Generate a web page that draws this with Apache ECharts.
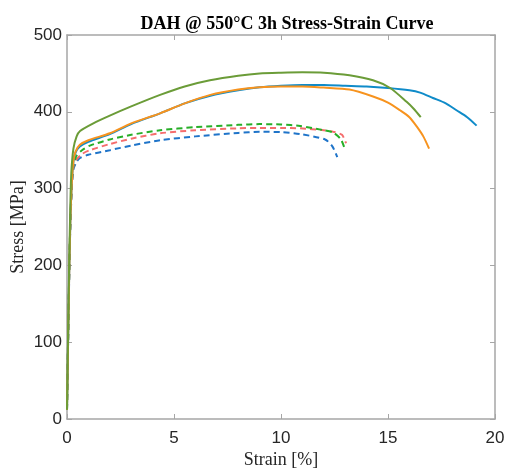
<!DOCTYPE html>
<html>
<head>
<meta charset="utf-8">
<script src="https://cdn.jsdelivr.net/npm/echarts@6/dist/echarts.min.js"></script>
<style>
    html, body { margin: 0; padding: 0; background: #fff; }
    #chart { width: 506px; height: 470px; }
</style>
</head>
<body>
<div id="chart"></div>
<script>
// strain [%], stress [MPa]
var blueSolid = [[0, 12], [0.05, 100], [0.1, 185], [0.15, 250], [0.22, 305], [0.3, 335], [0.4, 347], [0.6, 355], [1, 361], [2, 371], [3, 384], [4.35, 398], [5.5, 411], [6.7, 421], [8, 428], [9, 432], [10, 434], [11, 435], [12, 435], [13, 434], [14, 433], [15, 431], [16, 428], [16.5, 425], [17.1, 418], [17.7, 411], [18.2, 402], [18.7, 393], [19.14, 382]];
var orangeSolid = [[0, 12], [0.05, 100], [0.1, 185], [0.15, 250], [0.22, 305], [0.3, 336], [0.4, 348], [0.6, 357], [1, 363], [2, 372], [3, 385], [4.35, 398], [5.5, 411], [6.7, 422], [8, 429], [9, 432], [10, 433], [11, 433], [12, 431.5], [13.2, 429], [14.3, 420], [15, 412], [15.56, 402], [16, 393], [16.34, 381], [16.65, 368], [16.92, 352]];
var greenSolid = [[0, 12], [0.05, 110], [0.1, 200], [0.15, 270], [0.2, 320], [0.3, 352], [0.45, 368], [0.61, 375], [1.23, 385], [2, 395], [3, 407], [4.35, 422], [5.5, 433], [6.68, 441], [8, 447], [9, 450], [10, 451], [11, 451.5], [12, 451], [13.2, 447.5], [14.3, 441], [15.1, 431], [15.87, 413], [16.2, 404], [16.53, 393]];
var blueDashed = [[0, 12], [0.05, 100], [0.1, 180], [0.15, 245], [0.22, 298], [0.3, 325], [0.45, 335], [0.61, 340], [1, 344], [2, 350], [3, 356], [4.35, 363], [6, 368], [8, 372.5], [9, 374], [10, 373.5], [10.9, 371], [12.06, 364], [12.4, 355], [12.63, 341]];
var redDashed = [[0, 12], [0.05, 100], [0.1, 182], [0.15, 247], [0.22, 300], [0.3, 328], [0.45, 338], [0.7, 345], [1.07, 350], [2, 358], [3, 365], [4.35, 372], [6, 376], [8, 378.5], [9, 379], [10, 379], [10.9, 378.5], [12, 376], [12.44, 374], [12.85, 370], [13.04, 359]];
var greenDashed = [[0, 12], [0.05, 100], [0.1, 185], [0.15, 250], [0.22, 305], [0.3, 330], [0.45, 343], [0.7, 350], [1.07, 356], [2, 364], [3, 370], [4.35, 376], [6, 380], [8, 383], [9, 384], [10, 383.5], [10.9, 381.5], [12, 376], [12.44, 373], [12.8, 364], [12.99, 351]];

var xTicks = [0, 5, 10, 15, 20];
var yTicks = [0, 100, 200, 300, 400, 500];

var chart = echarts.init(document.getElementById('chart'));
var axisGray = '#a6a6a6';
var labelColor = '#262626';

function solid(name, data, color) {
    return {
        name: name,
        type: 'line',
        data: data,
        smooth: 0.25,
        showSymbol: false,
        lineStyle: { color: color, width: 2 },
        z: 3
    };
}
function dashed(name, data, color) {
    return {
        name: name,
        type: 'line',
        data: data,
        smooth: 0.25,
        showSymbol: false,
        lineStyle: { color: color, width: 2, type: [6, 4] },
        z: 2
    };
}

var option = {
    animation: false,
    title: {
        text: 'DAH @ 550°C 3h Stress-Strain Curve',
        left: 282,
        textAlign: 'center',
        top: 10,
        textStyle: {
            fontFamily: 'Liberation Serif',
            fontSize: 18,
            fontWeight: 'bold',
            color: '#000'
        }
    },
    grid: {
        left: 67,
        right: 11,
        top: 35,
        bottom: 51,
        outerBoundsMode: 'none',
        containLabel: false
    },
    xAxis: [{
        type: 'value',
        min: xTicks[0],
        max: xTicks[xTicks.length - 1],
        interval: 5,
        name: 'Strain [%]',
        nameLocation: 'middle',
        nameGap: 32,
        nameMoveOverlap: false,
        nameTextStyle: { fontFamily: 'Liberation Serif', fontSize: 18, color: labelColor },
        axisLine: { onZero: false, lineStyle: { color: axisGray, width: 1.5 } },
        axisTick: { inside: true, length: 5, lineStyle: { color: axisGray } },
        axisLabel: { fontFamily: 'Liberation Sans', fontSize: 17, color: labelColor, margin: 11 },
        splitLine: { show: false }
    }, {
        type: 'value',
        position: 'top',
        min: xTicks[0],
        max: xTicks[xTicks.length - 1],
        interval: 5,
        axisLine: { show: true, onZero: false, lineStyle: { color: axisGray, width: 1.5 } },
        axisTick: { show: true, inside: true, length: 5, lineStyle: { color: axisGray } },
        axisLabel: { show: false },
        splitLine: { show: false }
    }],
    yAxis: [{
        type: 'value',
        min: yTicks[0],
        max: yTicks[yTicks.length - 1],
        interval: 100,
        name: 'Stress [MPa]',
        nameLocation: 'middle',
        nameGap: 40,
        nameMoveOverlap: false,
        nameTextStyle: { fontFamily: 'Liberation Serif', fontSize: 18, color: labelColor },
        axisLine: { show: true, onZero: false, lineStyle: { color: axisGray, width: 1.5 } },
        axisTick: { show: true, inside: true, length: 5, lineStyle: { color: axisGray } },
        axisLabel: { fontFamily: 'Liberation Sans', fontSize: 17, color: labelColor, margin: 5 },
        splitLine: { show: false }
    }, {
        type: 'value',
        position: 'right',
        min: yTicks[0],
        max: yTicks[yTicks.length - 1],
        interval: 100,
        axisLine: { show: true, onZero: false, lineStyle: { color: axisGray, width: 1.5 } },
        axisTick: { show: true, inside: true, length: 5, lineStyle: { color: axisGray } },
        axisLabel: { show: false },
        splitLine: { show: false }
    }],
    series: [
        dashed('Blue dashed', blueDashed, '#1f74c9'),
        dashed('Red dashed', redDashed, '#f56d6d'),
        dashed('Green dashed', greenDashed, '#27ae27'),
        solid('Blue', blueSolid, '#0f8bc9'),
        solid('Orange', orangeSolid, '#f7931e'),
        solid('Green', greenSolid, '#6b9c38')
    ]
};
chart.setOption(option);
</script>
</body>
</html>
